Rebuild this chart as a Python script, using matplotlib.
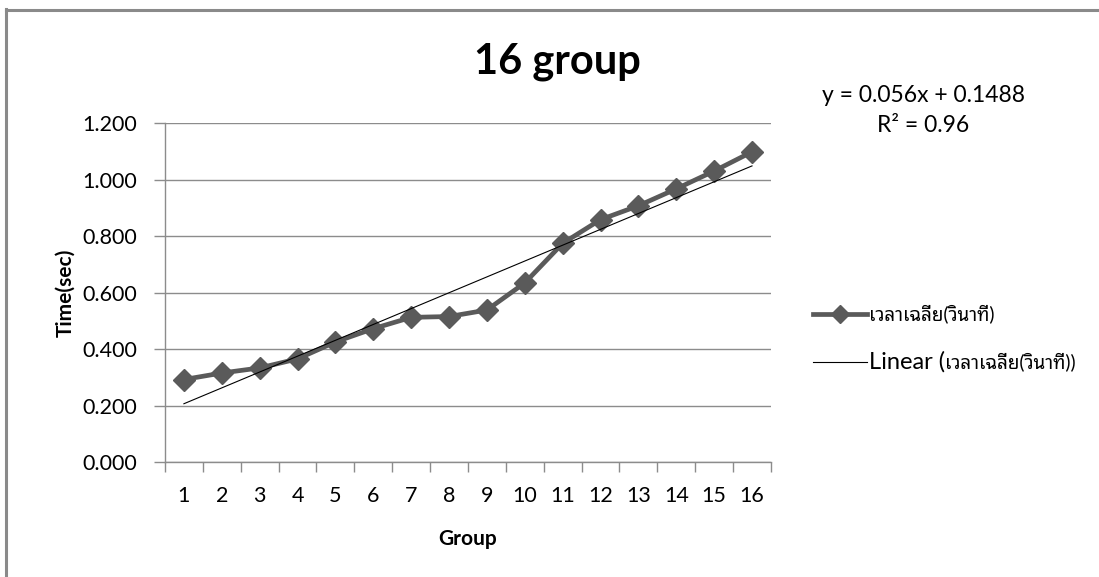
import numpy as np
import matplotlib
matplotlib.use("Agg")
import matplotlib.pyplot as plt
from matplotlib.lines import Line2D
from matplotlib.ticker import FixedLocator, FormatStrFormatter

groups = np.arange(1, 17)
avg_time = [0.292, 0.315, 0.333, 0.365, 0.425, 0.472, 0.512, 0.515,
            0.538, 0.634, 0.774, 0.858, 0.907, 0.967, 1.030, 1.098]
series_name = "เวลาเฉลี่ย(วินาที)"
eq_text = "y = 0.056x + 0.1488"
r2_text = "R² = 0.96"

plt.rcParams["font.family"] = ["Lato", "Noto Sans Thai Looped", "Sarabun", "DejaVu Sans"]

GRID = "#8c8c8c"
SERIES = "#5a5a5a"
THAI_SIZE = 13.5

fig = plt.figure(figsize=(10.99, 5.77), dpi=100)
ax = fig.add_axes([0.1501, 0.1993, 0.5514, 0.5875])

# linear trendline, fitted from the data
slope, icpt = np.polyfit(groups, avg_time, 1)
trend = slope * groups + icpt

ax.plot(groups, avg_time, color=SERIES, lw=3.4, marker="D", ms=11,
        mfc=SERIES, mec=SERIES, zorder=3)
ax.plot(groups, trend, color="black", lw=0.8, zorder=4)

ax.set_xlim(0.5, 16.5)
ax.set_ylim(0, 1.2)
ax.set_yticks(np.arange(0, 1.21, 0.2))
ax.yaxis.set_major_formatter(FormatStrFormatter("%.3f"))
ax.set_xticks(groups)
ax.xaxis.set_minor_locator(FixedLocator(np.arange(0.5, 16.6, 1)))
ax.tick_params(axis="x", which="major", length=0, pad=17, labelsize=15.5)
ax.tick_params(axis="x", which="minor", length=7, width=1, color=GRID, direction="out")
ax.tick_params(axis="y", length=8, width=1, color=GRID, direction="out", pad=12, labelsize=15.5)
ax.yaxis.grid(True, color=GRID, lw=1)
ax.set_axisbelow(True)
for s in ("top", "right"):
    ax.spines[s].set_visible(False)
for s in ("left", "bottom"):
    ax.spines[s].set_color(GRID)
    ax.spines[s].set_linewidth(1)

ax.set_xlabel("Group", fontsize=15, fontweight="bold", labelpad=17)
ax.set_ylabel("Time(sec)", fontsize=15, fontweight="bold", labelpad=5)
fig.text(0.507, 0.893, "16 group", fontsize=30, fontweight="bold", ha="center", va="center")

fig.text(0.840, 0.835, eq_text, fontsize=16.5, ha="center", va="center")
fig.text(0.840, 0.782, r2_text, fontsize=16.5, ha="center", va="center")

handles = [
    Line2D([], [], color=SERIES, lw=3.4, marker="D", ms=9, mfc=SERIES, mec=SERIES),
    Line2D([], [], color="black", lw=0.8),
]
leg = fig.legend(handles, [series_name, "Linear ("], loc="center left",
                 bbox_to_anchor=(0.724, 0.413), frameon=False, fontsize=THAI_SIZE,
                 handlelength=2.9, handletextpad=0.1, labelspacing=1.5)
leg.get_texts()[1].set_fontsize(17)
fig.canvas.draw()
# small Thai part placed right after "Linear ("
bb = leg.get_texts()[1].get_window_extent()
fig.text(bb.x1 / fig.bbox.width, (bb.y0 + 2) / fig.bbox.height, series_name + ")",
         fontsize=THAI_SIZE, ha="left", va="bottom")

# chart border (left and top edges visible)
fig.add_artist(Line2D([6 / 1099, 6 / 1099], [0, 1 - 9 / 577], transform=fig.transFigure,
                      color="#8a8a8a", lw=2.2))
fig.add_artist(Line2D([6 / 1099, 1], [1 - 10 / 577, 1 - 10 / 577], transform=fig.transFigure,
                      color="#8a8a8a", lw=2.2))

fig.savefig("out.png")
